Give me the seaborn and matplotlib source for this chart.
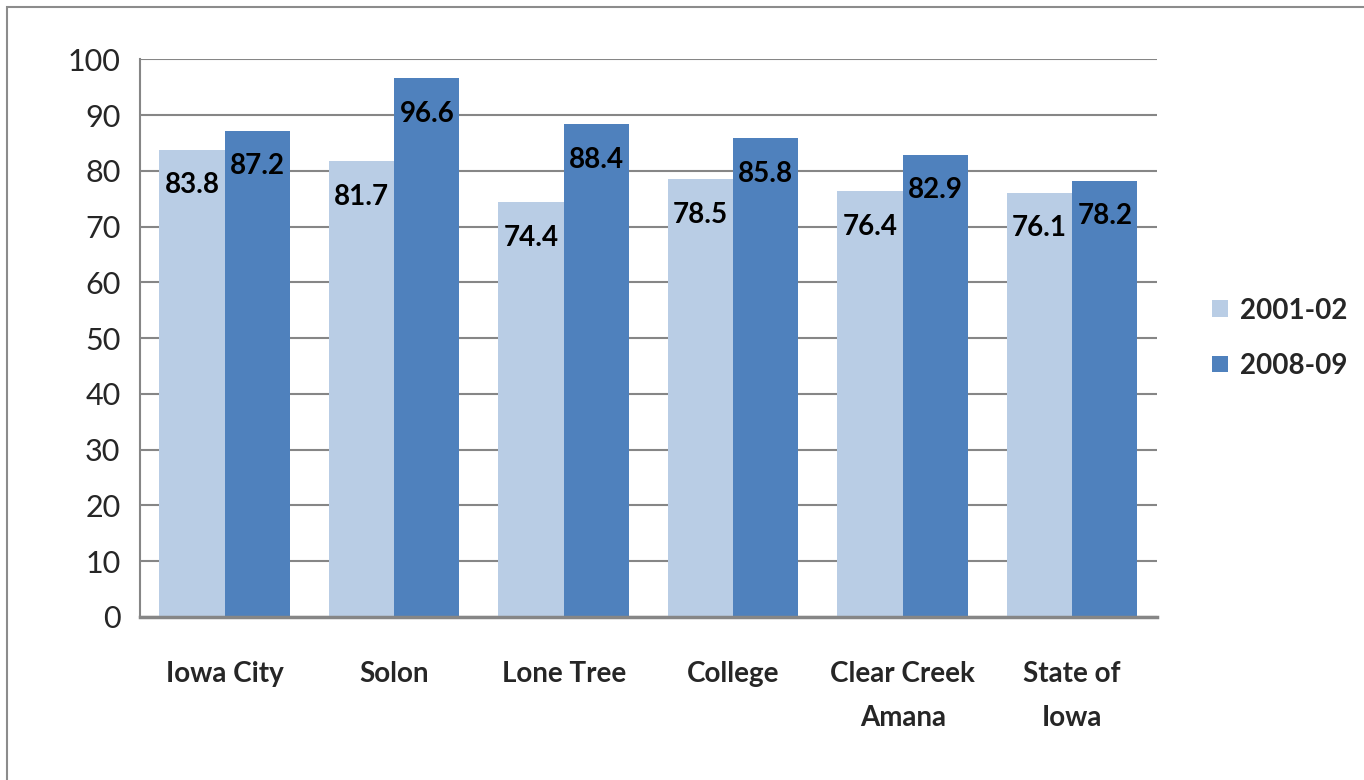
import matplotlib.pyplot as plt
import pandas as pd
import seaborn as sns
from matplotlib.patches import Rectangle

sns.set_theme(style='white')
plt.rcParams['font.family'] = ['Lato', 'DejaVu Sans']

districts = ['Iowa City', 'Solon', 'Lone Tree', 'College', 'Clear Creek\nAmana', 'State of\nIowa']
years = ['2001-02', '2008-09']
values_2001 = [83.8, 81.7, 74.4, 78.5, 76.4, 76.1]
values_2008 = [87.2, 96.6, 88.4, 85.8, 82.9, 78.2]
colors = ['#B9CDE5', '#4F81BD']

df = pd.DataFrame({
    'District': districts * 2,
    'Year': [years[0]] * len(districts) + [years[1]] * len(districts),
    'Value': values_2001 + values_2008,
})

fig = plt.figure(figsize=(13.64, 7.8), dpi=100)
ax = fig.add_axes([0.1026, 0.209, 0.7456, 0.715])

sns.barplot(data=df, x='District', y='Value', hue='Year', palette=colors,
            width=0.77, gap=0, saturation=1, ax=ax, edgecolor='none')

ax.set_ylim(0, 100)
ax.set_yticks(range(0, 101, 10))
ax.yaxis.grid(True, color='#868686', linewidth=1.5)
ax.set_axisbelow(True)
ax.set_xlabel('')
ax.set_ylabel('')
ax.tick_params(axis='y', labelsize=22, pad=14, length=0)
ax.tick_params(axis='x', labelsize=20, pad=32, length=0)
for lbl in ax.get_xticklabels():
    lbl.set_fontweight('bold')
    lbl.set_linespacing(1.85)
    lbl.set_verticalalignment('top')
for side in ['top', 'right']:
    ax.spines[side].set_visible(False)
ax.spines['left'].set_color('#868686')
ax.spines['left'].set_linewidth(1.5)
ax.spines['bottom'].set_color('#868686')
ax.spines['bottom'].set_linewidth(2.5)

for container in ax.containers:
    ax.bar_label(container, fmt='%.1f', label_type='edge', padding=-35,
                 fontsize=20, fontweight='bold', color='black')

leg = ax.legend(loc='center left', bbox_to_anchor=(1.03, 0.5), frameon=False,
                fontsize=20, handlelength=0.55, handleheight=0.55,
                handletextpad=0.45, labelspacing=1.05)
for t in leg.get_texts():
    t.set_fontweight('bold')

fig.patches.append(Rectangle((7 / 1364, -0.1), 1.1, 1 - 7 / 780 + 0.1,
                             transform=fig.transFigure, fill=False,
                             edgecolor='#8C8C8C', linewidth=1.5))

fig.savefig('out.png', dpi=100)
